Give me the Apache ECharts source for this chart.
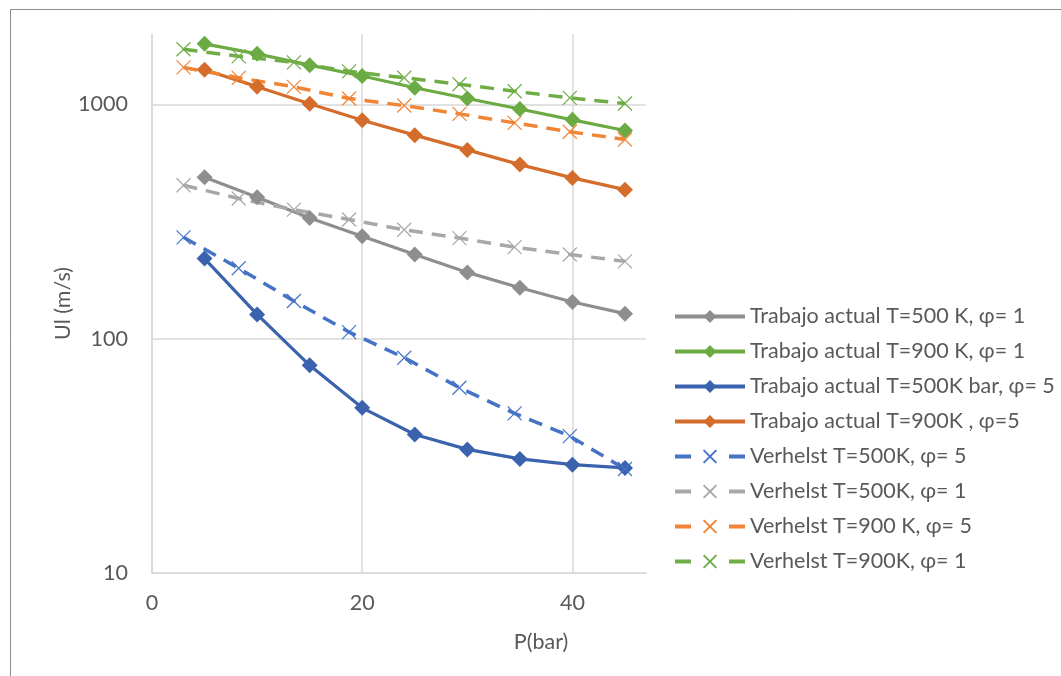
<!DOCTYPE html>
<html>
<head>
<meta charset="utf-8">
<script src="https://cdn.jsdelivr.net/npm/echarts@6/dist/echarts.min.js"></script>
<style>
html,body{margin:0;padding:0;background:#fff;}
#chart{width:1061px;height:676px;}
</style>
</head>
<body>
<div id="chart"></div>
<script>
// Pressure values (bar)
const xTrabajo = [5, 10, 15, 20, 25, 30, 35, 40, 45];
const xVerhelst = [3, 8.25, 13.5, 18.75, 24, 29.25, 34.5, 39.75, 45];

// Laminar burning velocity Ul (m/s)
const trabajo500_phi1 = [489, 402, 328, 274, 229, 192, 165, 143.5, 128];
const trabajo900_phi1 = [1816, 1646, 1472, 1324, 1179, 1061, 957, 860, 775];
const trabajo500_phi5 = [220, 127, 77, 50.7, 39, 33.7, 30.7, 29, 28.1];
const trabajo900_phi5 = [1406, 1192, 1008, 857, 740, 640, 554, 486, 433];
const verhelst500_phi5 = [271, 200, 145, 106.8, 83, 61.8, 48, 38.4, 27.8];
const verhelst500_phi1 = [452, 397, 356, 323, 292, 269, 246, 229, 214];
const verhelst900_phi5 = [1440, 1300, 1190, 1061, 990, 912, 835, 765, 709];
const verhelst900_phi1 = [1722, 1606, 1513, 1386, 1301, 1221, 1139, 1067, 1010];

const seriesNames = [
  'Trabajo actual T=500 K, φ= 1',
  'Trabajo actual T=900 K, φ= 1',
  'Trabajo actual T=500K bar, φ= 5',
  'Trabajo actual T=900K , φ=5',
  'Verhelst T=500K, φ= 5',
  'Verhelst T=500K, φ= 1',
  'Verhelst T=900 K, φ= 5',
  'Verhelst T=900K, φ= 1'
];
const xTicks = [0, 20, 40];
const yTicks = [10, 100, 1000];

const FONT = 'Lato, "Open Sans", sans-serif';
const FS = 21.5;
const TXT = '#595959';
const GRID = '#d9d9d9';
const CROSS = 'path://M0 0L12 12M12 0L0 12';

function zip(xs, ys){ return xs.map((x,i)=>[x, ys[i]]); }

function solid(name, xs, ys, color){
  return {
    name, type:'line', data: zip(xs, ys),
    symbol:'diamond', symbolSize:16,
    lineStyle:{color, width:3.2},
    itemStyle:{color, borderColor:color, borderWidth:0},
    emphasis:{disabled:true}, animation:false
  };
}
function dashed(name, xs, ys, color){
  return {
    name, type:'line', data: zip(xs, ys),
    symbol:CROSS, symbolSize:14, symbolKeepAspect:true,
    lineStyle:{color, width:3.5, type:[14,9]},
    itemStyle:{color:'rgba(0,0,0,0)', borderColor:color, borderWidth:1.2},
    emphasis:{disabled:true}, animation:false
  };
}

const legendData = seriesNames.map((n, i) => i < 4
  ? {name:n, lineStyle:{width:4}}
  : {name:n, lineStyle:{width:4, type:[16,38]}});

const chart = echarts.init(document.getElementById('chart'), null, {renderer:'canvas'});
chart.setOption({
  backgroundColor:'#ffffff',
  animation:false,
  graphic:[{
    type:'rect', left:8, top:7,
    shape:{x:0, y:0, width:1100, height:700},
    style:{fill:'none', stroke:'#8c8c8c', lineWidth:1},
    silent:true
  }],
  grid:{left:152, top:34, right:415, bottom:103, containLabel:false},
  xAxis:{
    type:'value', min:0, max:47, interval:20,
    name:'P(bar)', nameLocation:'middle', nameGap:58,
    nameTextStyle:{color:TXT, fontSize:FS, fontFamily:FONT, padding:[0,0,0,284]},
    axisLine:{show:true, lineStyle:{color:GRID, width:1.5}},
    axisTick:{show:false},
    axisLabel:{color:TXT, fontSize:FS, fontFamily:FONT, margin:19,
      formatter:v => xTicks.includes(v) ? String(v) : ''},
    splitLine:{show:true, showMaxLine:false, lineStyle:{color:GRID, width:1.5}}
  },
  yAxis:{
    type:'log', logBase:10, min:10, max:2000,
    name:'Ul (m/s)', nameLocation:'middle', nameRotate:90, nameGap:66,
    nameTextStyle:{color:TXT, fontSize:FS, fontFamily:FONT},
    axisLine:{show:true, lineStyle:{color:GRID, width:1.5}},
    axisTick:{show:false},
    axisLabel:{color:TXT, fontSize:FS, fontFamily:FONT, margin:24,
      formatter:v => yTicks.some(t => Math.abs(t - v) < 1e-6) ? String(Math.round(v)) : ''},
    splitLine:{show:true, showMaxLine:false, lineStyle:{color:GRID, width:1.5}}
  },
  legend:{
    orient:'vertical', left:668, top:299,
    itemWidth:70, itemHeight:16, itemGap:10,
    textStyle:{color:TXT, fontSize:FS, fontFamily:FONT, lineHeight:25},
    data: legendData
  },
  series:[
    solid(seriesNames[0], xTrabajo, trabajo500_phi1, '#8e8e8e'),
    solid(seriesNames[1], xTrabajo, trabajo900_phi1, '#6caa44'),
    solid(seriesNames[2], xTrabajo, trabajo500_phi5, '#3b63ad'),
    solid(seriesNames[3], xTrabajo, trabajo900_phi5, '#d46d2b'),
    dashed(seriesNames[4], xVerhelst, verhelst500_phi5, '#4673c6'),
    dashed(seriesNames[5], xVerhelst, verhelst500_phi1, '#a8a8a8'),
    dashed(seriesNames[6], xVerhelst, verhelst900_phi5, '#f08536'),
    dashed(seriesNames[7], xVerhelst, verhelst900_phi1, '#70ad47')
  ]
});
</script>
</body>
</html>
